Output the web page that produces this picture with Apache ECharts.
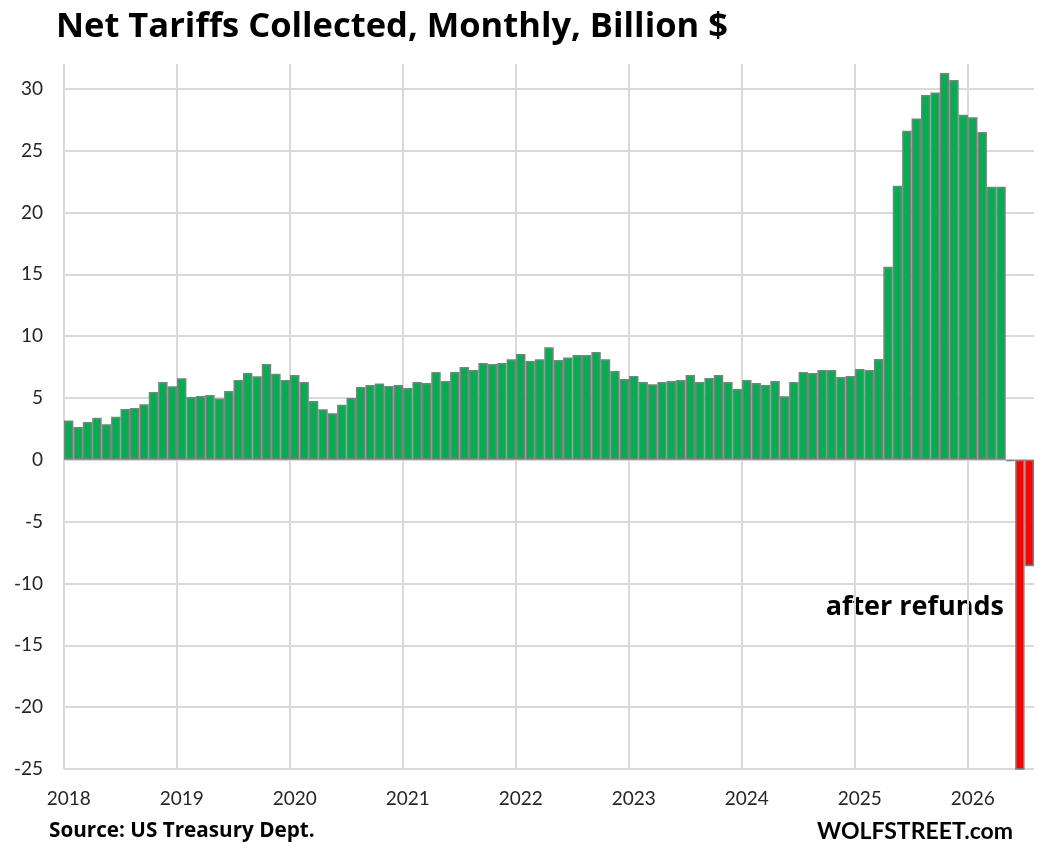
<!DOCTYPE html>
<html lang="en">
<head>
  <meta charset="UTF-8">
  <title>Net Tariffs Collected</title>
  <style>
  html, body { margin: 0; padding: 0; background: #fff; }
  #main { width: 1044px; height: 858px; }
  </style>
  <script src="https://cdn.jsdelivr.net/npm/echarts@6/dist/echarts.min.js"></script>
</head>
<body>
  <div id="main"></div>
  <script>
  // net tariffs collected per month, billion $
  var years = ['2018', '2019', '2020', '2021', '2022', '2023', '2024', '2025', '2026'];
  var v2018 = [3.17, 2.66, 3.06, 3.39, 2.88, 3.47, 4.11, 4.19, 4.49, 5.48, 6.29, 5.94];
  var v2019 = [6.59, 5.08, 5.16, 5.24, 4.95, 5.56, 6.45, 7.02, 6.75, 7.74, 6.96, 6.45];
  var v2020 = [6.85, 6.29, 4.76, 4.09, 3.76, 4.44, 5.0, 5.89, 6.05, 6.16, 5.97, 6.05];
  var v2021 = [5.81, 6.29, 6.21, 7.1, 6.37, 7.1, 7.5, 7.26, 7.82, 7.74, 7.82, 8.12];
  var v2022 = [8.55, 7.98, 8.12, 9.09, 8.06, 8.28, 8.47, 8.47, 8.71, 8.12, 7.18, 6.53];
  var v2023 = [6.77, 6.29, 6.1, 6.29, 6.37, 6.45, 6.85, 6.29, 6.61, 6.85, 6.29, 5.73];
  var v2024 = [6.45, 6.21, 6.05, 6.37, 5.13, 6.29, 7.1, 7.02, 7.26, 7.26, 6.69, 6.77];
  var v2025 = [7.34, 7.26, 8.15, 15.6, 22.15, 26.6, 27.6, 29.5, 29.7, 31.27, 30.7, 27.9];
  var v2026 = [27.7, 26.5, 22.07, 22.07, -0.1, -29, -8.6];

  var yTicks = { min: -25, max: 32, step: 5 };
  var title = 'Net Tariffs Collected, Monthly, Billion $';
  var source = 'Source: US Treasury Dept.';
  var brand = 'WOLFSTREET.com';
  var note = 'after refunds';

  var values = [].concat(v2018, v2019, v2020, v2021, v2022, v2023, v2024, v2025, v2026);
  var months = [];
  years.forEach(function (y) {
    for (var m = 1; m <= 12; m++) months.push(y + '-' + (m < 10 ? '0' : '') + m);
  });
  months = months.slice(0, values.length);

  var font = 'Lato';
  var headFont = '"Open Sans"';
  var gridColor = '#d9d9d9';

  var chart = echarts.init(document.getElementById('main'));
  chart.setOption({
    animation: false,
    backgroundColor: '#fff',
    textStyle: { fontFamily: font },
    grid: { left: 64, right: 10, top: 64, bottom: 89, containLabel: false },
    xAxis: {
      type: 'category',
      data: months,
      axisLine: { show: false, onZero: false },
      axisTick: { show: false },
      axisLabel: {
        interval: 11,
        margin: 20,
        fontSize: 19,
        color: '#262626',
        formatter: function (v) { return v.slice(0, 4); }
      },
      splitLine: {
        show: true,
        interval: 11,
        showMaxLine: false,
        lineStyle: { color: gridColor, width: 2 }
      }
    },
    yAxis: {
      type: 'value',
      min: yTicks.min,
      max: yTicks.max,
      interval: yTicks.step,
      axisLine: { show: false },
      axisTick: { show: false },
      axisLabel: {
        showMaxLabel: false,
        margin: 21,
        fontSize: 19,
        color: '#262626'
      },
      splitLine: {
        showMaxLine: false,
        lineStyle: { color: gridColor, width: 2 }
      }
    },
    series: [{
      type: 'bar',
      barCategoryGap: '0%',
      clip: true,
      itemStyle: { borderColor: '#7f7f7f', borderWidth: 1.5 },
      data: values.map(function (v) {
        return { value: v, itemStyle: { color: v < 0 ? '#ff0000' : '#00b050' } };
      })
    }],
    graphic: [
      {
        type: 'text', left: 56, top: 10,
        style: { text: title, font: 'bold 34.5px ' + headFont, fill: '#000' }
      },
      {
        type: 'text', left: 49, top: 821,
        style: { text: source, font: 'bold 20.7px ' + headFont, fill: '#000' }
      },
      {
        type: 'text', right: 31, top: 820,
        style: { text: brand, font: 'bold 23px ' + font, fill: '#000' }
      },
      {
        type: 'text', right: 40, top: 594,
        style: { text: note, font: 'bold 27px ' + headFont, fill: '#000' }
      }
    ]
  });
  </script>
</body>
</html>
